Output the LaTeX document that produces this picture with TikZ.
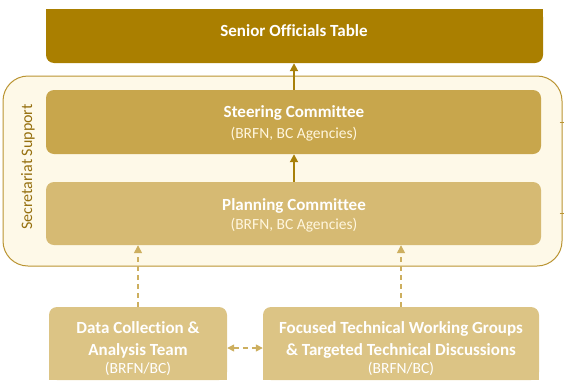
\documentclass[tikz,border=0pt]{standalone}
\usepackage{fontspec}
\setmainfont[Ligatures=NoCommon]{Carlito}
\usetikzlibrary{arrows.meta}
\definecolor{senC}{RGB}{170,127,0}
\definecolor{steerC}{RGB}{200,166,76}
\definecolor{planC}{RGB}{214,186,115}
\definecolor{botC}{RGB}{220,196,133}
\definecolor{contFill}{RGB}{254,249,232}
\definecolor{contDraw}{RGB}{186,148,50}
\definecolor{arrC}{RGB}{168,128,10}
\definecolor{dashC}{RGB}{205,175,95}
\definecolor{secC}{RGB}{150,112,15}
\definecolor{subC}{RGB}{255,246,222}
\tikzset{
  boxshape/.style={rectangle, rounded corners=8pt, inner sep=0pt, draw=none},
  titletxt/.style={text=white, font=\fontsize{17}{21}\selectfont\bfseries, align=center, inner sep=0pt},
  subtxt/.style={text=subC, font=\fontsize{15.5}{18}\selectfont, inner sep=0pt},
  solidarrow/.style={draw=arrC, line width=1.8pt, -{Triangle[length=8pt,width=8pt]}},
  dasharrow/.style={draw=dashC, line width=1.4pt, dash pattern=on 5pt off 4pt, -{Triangle[length=8pt,width=8pt]}},
  dblarrow/.style={draw=dashC, line width=1.4pt, dash pattern=on 5pt off 4pt, {Triangle[length=7pt,width=7pt]}-{Triangle[length=7pt,width=7pt]}},
  tickline/.style={draw=contDraw, line width=0.8pt}
}
\begin{document}
\begin{tikzpicture}[x=1pt,y=-1pt]
\useasboundingbox (0,0) rectangle (564,383);
% container
\node[rectangle, rounded corners=25pt, fill=contFill, draw=contDraw, line width=1pt, minimum width=559pt, minimum height=190pt, inner sep=0pt] (secretariat) at (282.5,171) {};
\node[rotate=90, text=secC, font=\fontsize{16}{18}\selectfont, inner sep=0pt] (sectext) at (28,167) {Secretariat Support};
% senior
\node[boxshape, fill=senC, minimum width=497pt, minimum height=54pt] (senior) at (294.5,36) {};
\fill[senC] (senior.north west) rectangle ([yshift=-12pt]senior.north east);
\node[titletxt, anchor=base] (seniort) at (294,36.5) {Senior Officials Table};
% steering
\node[boxshape, fill=steerC, minimum width=495pt, minimum height=64pt] (steering) at (293.5,122) {};
\node[titletxt, anchor=base] (steeringt) at (294,117.5) {Steering Committee};
\node[subtxt, anchor=base] (steerings) at (294,138) {(BRFN, BC Agencies)};
% planning
\node[boxshape, fill=planC, minimum width=495pt, minimum height=63pt] (planning) at (293.5,213.5) {};
\node[titletxt, anchor=base] (planningt) at (294,210.5) {Planning Committee};
\node[subtxt, anchor=base] (plannings) at (294,229) {(BRFN, BC Agencies)};
% bottom boxes
\node[boxshape, fill=botC, minimum width=178pt, minimum height=73pt] (datab) at (138,343.5) {};
\fill[botC] ([yshift=12pt]datab.south west) rectangle (datab.south east);
\node[titletxt, anchor=base] (datat1) at (138,333) {Data Collection \&};
\node[titletxt, anchor=base] (datat2) at (138,355) {Analysis Team};
\node[subtxt, text=white, anchor=base] (datas) at (138,373) {(BRFN/BC)};
\node[boxshape, fill=botC, minimum width=276pt, minimum height=73pt] (focusb) at (401,343.5) {};
\fill[botC] ([yshift=12pt]focusb.south west) rectangle (focusb.south east);
\node[titletxt, anchor=base] (focust1) at (401,333) {Focused Technical Working Groups};
\node[titletxt, anchor=base] (focust2) at (401,355) {\& Targeted Technical Discussions};
\node[subtxt, text=white, anchor=base] (focuss) at (401,373) {(BRFN/BC)};
% connectors
\draw[solidarrow] (steering.north -| seniort) -- (senior.south -| seniort);
\draw[solidarrow] (planning.north -| seniort) -- (steering.south -| seniort);
\draw[dasharrow] (datab.north) -- (planning.south -| datab.north);
\draw[dasharrow] (focusb.north) -- (planning.south -| focusb.north);
\draw[dblarrow] ([yshift=-4.5pt]datab.east) -- ([yshift=-4.5pt]focusb.west);
% right ticks
\coordinate (tickA) at (secretariat.east |- steering.center);
\coordinate (tickB) at (secretariat.east |- planning.center);
\draw[tickline] ([xshift=-3pt]tickA) -- ([xshift=4pt]tickA);
\draw[tickline] ([xshift=-3pt]tickB) -- ([xshift=4pt]tickB);
\end{tikzpicture}
\end{document}
